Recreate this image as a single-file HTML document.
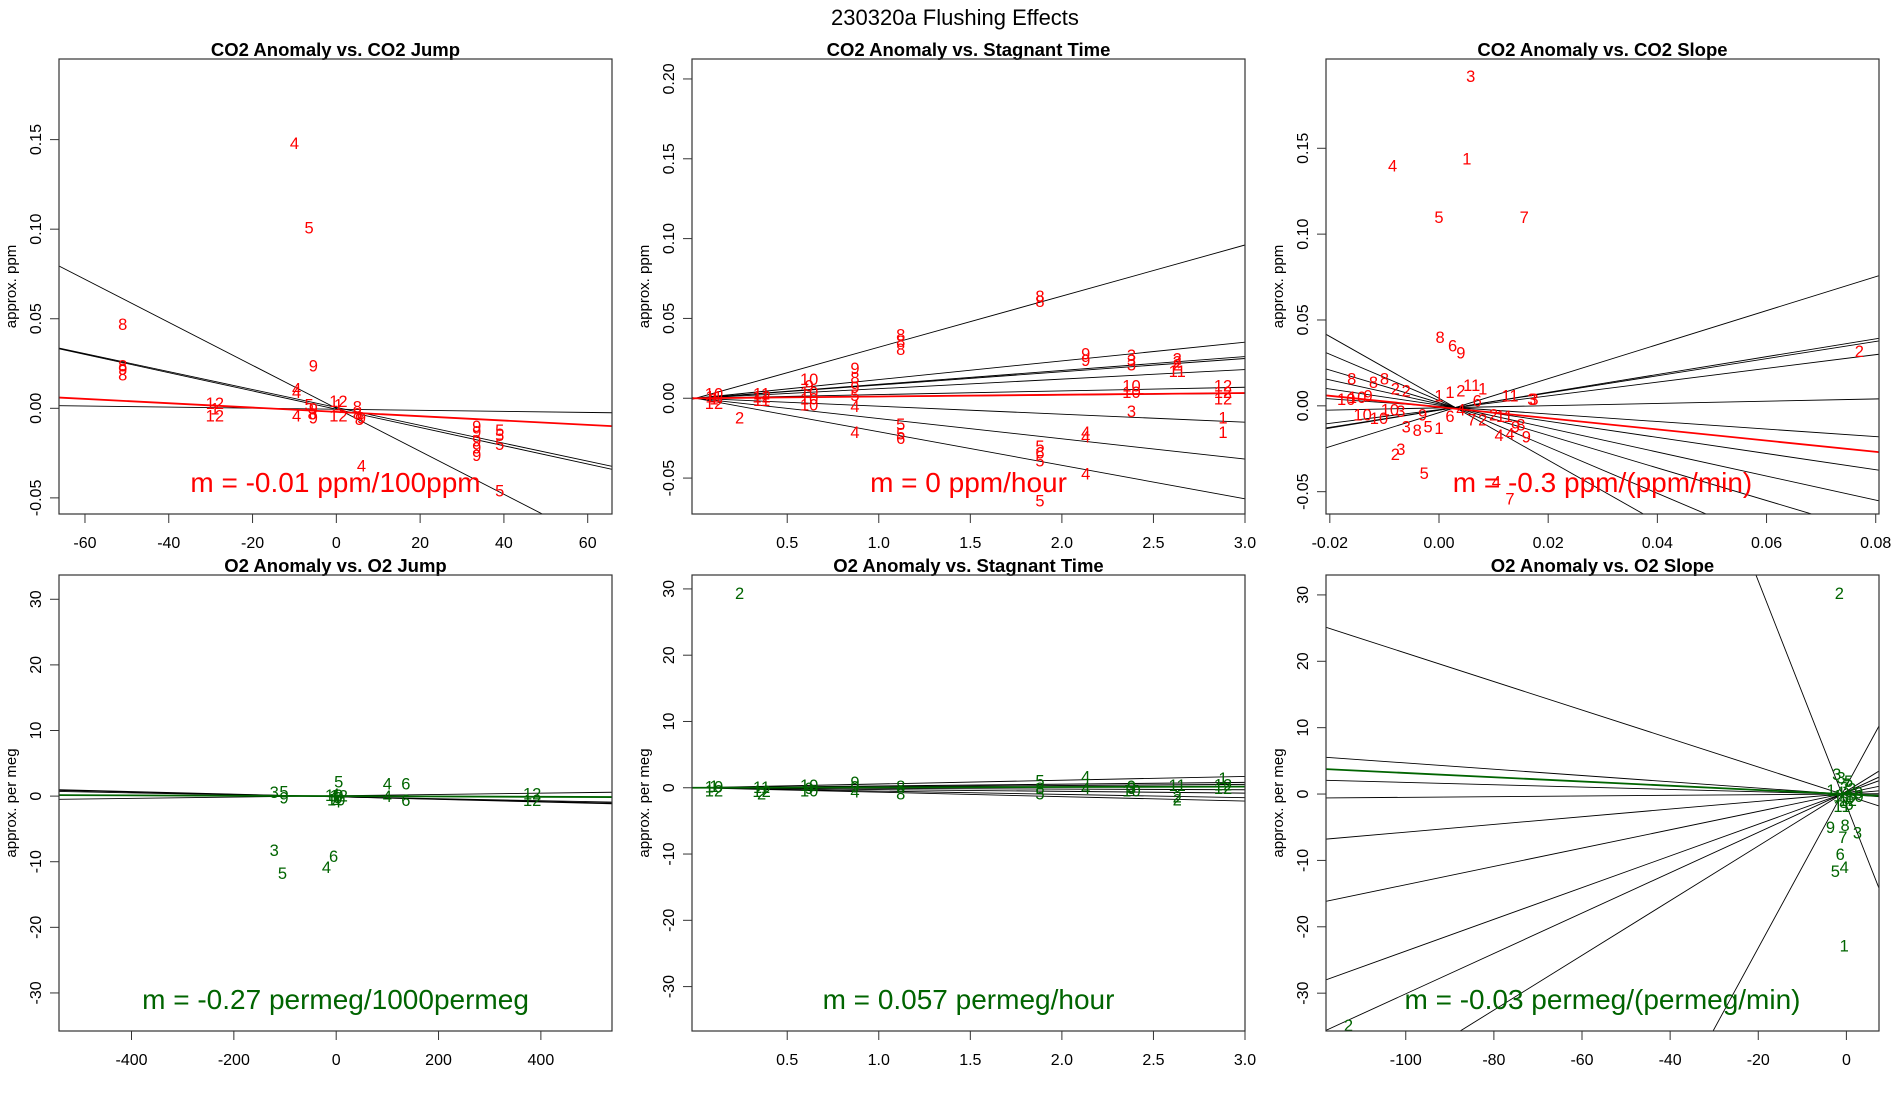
<!DOCTYPE html>
<html><head><meta charset="utf-8"><title>230320a Flushing Effects</title>
<style>
html,body{margin:0;padding:0;background:#fff;width:1900px;height:1100px;overflow:hidden;}
svg{display:block;font-family:"Liberation Sans",Arial,sans-serif;}
</style></head>
<body>
<svg id="chart" width="1900" height="1100" viewBox="0 0 1900 1100" xmlns="http://www.w3.org/2000/svg">
<rect x="0" y="0" width="1900" height="1100" fill="#fff"/>
<text x="955" y="25" font-size="22" text-anchor="middle">230320a   Flushing Effects</text>
</svg>
<script>
// ---------- Panel 1: CO2 Anomaly vs CO2 Jump ----------
const p1Labels = ["4","5","8","9","8","9","8","4","4","12","1","12","5","9","8","9","4","12","12","1","8","8","8","9","9","9","9","9","9","5","5","5","4","5"];
const p1X = [-10,-6.5,-51,-5.5,-51,-51,-51,-9.5,-9.5,-29,-29,-29,-6.5,-5.5,-5.8,-5.5,-9.5,0.5,0.5,0.5,5,5,5.5,6,33.5,33.5,33.5,33.5,33.5,39,39,39,6,39];
const p1Y = [0.148,0.101,0.047,0.024,0.024,0.022,0.019,0.011,0.009,0.003,0.0,-0.004,0.002,0.0,-0.003,-0.005,-0.004,0.004,-0.004,0.002,0.001,-0.003,-0.006,-0.005,-0.01,-0.013,-0.018,-0.022,-0.026,-0.012,-0.015,-0.02,-0.032,-0.046];
const p1LineA = [0,0.0005,-0.0005,-0.0005];
const p1LineB = [-0.0012,-0.0005,-0.00051,-0.00003];
const p1Fit = [-0.002,-0.000121];
const p1XTicks = [-60,-40,-20,0,20,40,60];
const p1YTicks = [-0.05,0.00,0.05,0.10,0.15];

// ---------- Panel 2: CO2 Anomaly vs Stagnant Time ----------
const p2Labels = ["10","1","12","11","2","11","12","11","10","9","10","10","10","9","8","9","5","4","4","8","8","8","5","5","6","8","8","5","6","5","5","9","9","4","4","4","3","3","3","10","10","3","2","2","2","11","12","12","12","1","1"];
const p2X = [0.1,0.1,0.1,0.1,0.24,0.36,0.36,0.36,0.62,0.62,0.62,0.62,0.62,0.87,0.87,0.87,0.87,0.87,0.87,1.12,1.12,1.12,1.12,1.12,1.12,1.88,1.88,1.88,1.88,1.88,1.88,2.13,2.13,2.13,2.13,2.13,2.38,2.38,2.38,2.38,2.38,2.38,2.63,2.63,2.63,2.63,2.88,2.88,2.88,2.88,2.88];
const p2Y = [0.003,0.0,-0.003,0.001,-0.012,0.003,0.001,-0.001,0.012,0.008,0.004,0.0,-0.004,0.019,0.013,0.007,0.002,-0.005,-0.021,0.04,0.036,0.031,-0.016,-0.022,-0.025,0.064,0.061,-0.03,-0.034,-0.039,-0.064,0.028,0.024,-0.021,-0.024,-0.047,0.027,0.024,0.021,0.008,0.004,-0.008,0.025,0.023,0.021,0.017,0.008,0.004,0.0,-0.012,-0.021];
const p2LineA = [0,0,0,0,0,0,0,0,0,0];
const p2LineB = [0.032,0.0117,0.0087,0.0083,0.006,0.0023,0.001,-0.005,-0.0127,-0.021];
const p2Fit = [0,0.0011];
const p2XTicks = [0.5,1.0,1.5,2.0,2.5,3.0];
const p2YTicks = [-0.05,0.00,0.05,0.10,0.15,0.20];

// ---------- Panel 3: CO2 Anomaly vs CO2 Slope ----------
const p3Labels = ["3","1","4","5","7","8","6","9","2","3","4","7","5","8","8","8","10","10","9","2","2","10","10","10","3","3","8","3","2","5","1","9","1","1","2","11","1","6","4","6","7","2","2","11","11","8","4","9","4","9","3"];
const p3X = [0.0058,0.0051,-0.0085,0.0,0.0156,0.0002,0.0025,0.004,0.077,0.0174,0.0105,0.013,-0.0027,-0.016,-0.012,-0.010,-0.017,-0.015,-0.013,-0.008,-0.006,-0.014,-0.011,-0.009,-0.007,-0.006,-0.004,-0.007,-0.008,-0.002,0.0,-0.003,0.0,0.002,0.004,0.006,0.008,0.007,0.004,0.002,0.006,0.008,0.010,0.012,0.013,0.015,0.013,0.016,0.011,0.014,0.017];
const p3Y = [0.192,0.144,0.140,0.110,0.110,0.040,0.035,0.031,0.032,0.004,-0.044,-0.054,-0.039,0.016,0.014,0.016,0.004,0.005,0.006,0.010,0.009,-0.005,-0.007,-0.002,-0.003,-0.012,-0.014,-0.025,-0.028,-0.012,-0.013,-0.005,0.006,0.008,0.009,0.012,0.010,0.003,-0.002,-0.006,-0.008,-0.008,-0.005,-0.006,0.006,-0.011,-0.016,-0.018,-0.017,-0.012,0.004];
const p3Slopes = [0.99,0.52,0.50,0.40,0.065,-0.22,-0.47,-0.70,-0.95,-1.35,-1.8];
const p3Pivot = [0.003,-0.001];
const p3Fit = [-0.0007,-0.326];
const p3XTicks = [-0.02,0.00,0.02,0.04,0.06,0.08];
const p3YTicks = [-0.05,0.00,0.05,0.10,0.15];

// ---------- Panel 4: O2 Anomaly vs O2 Jump ----------
const p4Labels = ["3","5","6","4","5","4","6","4","6","3","5","9","12","12","4","6","10","12","10","4"];
const p4X = [-121,-105,-5,-19,5,100,136,100,136,-121,-102,-102,383,383,-2,3,0,5,-4,1];
const p4Y = [-8.2,-11.7,-9.1,-10.8,2.2,1.9,1.9,0,-0.6,0.6,0.7,-0.2,0.4,-0.6,0.3,-0.2,-0.5,0.1,0.2,-0.8];
const p4LineA = [-0.1,-0.1,0.05,-0.1];
const p4LineB = [-0.002,-0.0015,0.001,-0.0018];
const p4Fit = [0.0,-0.00027];
const p4XTicks = [-400,-200,0,200,400];
const p4YTicks = [-30,-20,-10,0,10,20,30];

// ---------- Panel 5: O2 Anomaly vs Stagnant Time ----------
const p5Labels = ["2","10","12","1","11","12","2","10","9","10","9","9","4","8","8","5","5","8","4","4","9","10","3","11","2","2","12","12","1"];
const p5X = [0.24,0.1,0.1,0.1,0.36,0.36,0.36,0.62,0.62,0.62,0.87,0.87,0.87,1.12,1.12,1.88,1.88,1.88,2.13,2.13,2.38,2.38,2.38,2.63,2.63,2.63,2.88,2.88,2.88];
const p5Y = [29.4,0.2,-0.4,0.3,0.1,-0.5,-0.9,0.4,0.0,-0.4,0.9,0.2,-0.6,0.3,-0.9,1.1,-0.9,0.0,1.7,0.0,0.3,-0.4,0.0,0.4,-1.3,-1.8,0.5,0.0,1.5];
const p5LineA = [0,0,0,0,0,0,0,0];
const p5LineB = [0.57,0.27,0.17,0.07,-0.1,-0.27,-0.5,-0.67];
const p5Fit = [0,0.057];
const p5XTicks = [0.5,1.0,1.5,2.0,2.5,3.0];
const p5YTicks = [-30,-20,-10,0,10,20,30];

// ---------- Panel 6: O2 Anomaly vs O2 Slope ----------
const p6Labels = ["2","2","1","9","8","7","3","6","5","4","3","3","5","1","7","2","4","6","8","10","11","12","1","9","5","3"];
const p6X = [-1.6,-113,-0.5,-3.6,-0.3,-0.8,2.5,-1.4,-2.5,-0.5,-2.2,-1.2,0.5,-3.5,0.0,1.2,-1.5,0.8,-0.6,1.8,-1.0,0.3,-2.0,2.8,0.6,-0.4];
const p6Y = [30.3,-34.8,-22.8,-5.0,-4.7,-6.5,-5.8,-9.0,-11.6,-11.0,3.0,2.5,2.0,0.6,1.5,0.8,0.3,-0.5,-1.2,-0.3,-1.8,-0.9,-0.2,0.2,-1.5,1.0];
const p6Slopes = [-1.69,-0.2145,-0.0473,-0.0177,0.005,0.058,0.138,0.239,0.304,0.412,1.22];
const p6Pivot = [-1,0];
const p6Fit = [-0.03,-0.032];
const p6XTicks = [-100,-80,-60,-40,-20,0];
const p6YTicks = [-30,-20,-10,0,10,20,30];

const SVGNS = "http://www.w3.org/2000/svg";
const svg = document.getElementById('chart');
function mk(tag, attrs, parent){
  const e = document.createElementNS(SVGNS, tag);
  for (const k in attrs) e.setAttribute(k, attrs[k]);
  (parent || svg).appendChild(e);
  return e;
}

function drawPanel(cfg){
  const L = cfg.left, T = cfg.top, W = 553, H = cfg.h;
  const R = L + W, B = T + H;
  const sx = v => L + (v - cfg.xmin) / (cfg.xmax - cfg.xmin) * W;
  const sy = v => B - (v - cfg.ymin) / (cfg.ymax - cfg.ymin) * H;
  const g = mk('g', {});
  
  
  const cid = 'clip-' + cfg.name;
  const cp = mk('clipPath', {id: cid}, g);
  mk('rect', {x: L, y: T, width: W, height: H}, cp);

  const title = mk('text', {x: (L + R) / 2, y: T - 3, 'font-size': 18.5, 'font-weight': 'bold', 'text-anchor': 'middle'}, g);
  title.textContent = cfg.title;
  
  

  const yl = mk('text', {x: 0, y: 0, 'font-size': 15, 'text-anchor': 'middle', transform: 'translate(' + (L - 43) + ',' + ((T + B) / 2) + ') rotate(-90)'}, g);
  yl.textContent = cfg.ylabel;
  
  

  cfg.xticks.forEach(t => {
    const x = sx(t);
    const tk = mk('line', {x1: x, x2: x, y1: B, y2: B + 9, stroke: '#333', 'stroke-width': 1}, g);
    
    
    const tl = mk('text', {x: x, y: B + 34, 'font-size': 16, 'text-anchor': 'middle'}, g);
    tl.textContent = cfg.xfmt(t);
    
    
  });
  cfg.yticks.forEach(t => {
    const y = sy(t);
    const tk = mk('line', {x1: L - 9, x2: L, y1: y, y2: y, stroke: '#333', 'stroke-width': 1}, g);
    
    
    const tl = mk('text', {x: 0, y: 0, 'font-size': 16, 'text-anchor': 'middle', transform: 'translate(' + (L - 18) + ',' + y + ') rotate(-90)'}, g);
    tl.textContent = cfg.yfmt(t);
    
    
  });

  const lg = mk('g', {'clip-path': 'url(#' + cid + ')'}, g);
  cfg.lines.forEach(ab => {
    const ln = mk('line', {x1: sx(cfg.xmin), y1: sy(ab[0] + ab[1] * cfg.xmin), x2: sx(cfg.xmax), y2: sy(ab[0] + ab[1] * cfg.xmax), stroke: '#000', 'stroke-width': 0.9}, lg);
    
    
  });
  const fl = mk('line', {x1: sx(cfg.xmin), y1: sy(cfg.fit[0] + cfg.fit[1] * cfg.xmin), x2: sx(cfg.xmax), y2: sy(cfg.fit[0] + cfg.fit[1] * cfg.xmax), stroke: cfg.color, 'stroke-width': 1.8}, lg);
  
  

  for (let i = 0; i < cfg.px.length; i++) {
    const t = mk('text', {x: sx(cfg.px[i]), y: sy(cfg.py[i]) + 6, 'font-size': 16.5, fill: cfg.color, 'text-anchor': 'middle'}, lg);
    t.textContent = cfg.pl[i];
    
    
  }

  const mt = mk('text', {x: (L + R) / 2, y: cfg.mty, 'font-size': 28, fill: cfg.color, 'text-anchor': 'middle'}, g);
  mt.textContent = cfg.mtext;
  
  

  const fr = mk('rect', {x: L, y: T, width: W, height: H, fill: 'none', stroke: '#333', 'stroke-width': 1.2}, g);
  
  
}

const f2 = v => v.toFixed(2);
const f1 = v => v.toFixed(1);
const f0 = v => String(v);
const pivotLines = (pv, sl) => sl.map(s => [pv[1] - pv[0] * s, s]);
const abLines = (A, Bs) => A.map((a, i) => [a, Bs[i]]);

drawPanel({name:'panel-co2-jump', left:59, top:59, h:455, xmin:-66.2, xmax:65.8, ymin:-0.059, ymax:0.195,
  title:'CO2 Anomaly vs. CO2 Jump', ylabel:'approx. ppm', xticks:p1XTicks, yticks:p1YTicks, xfmt:f0, yfmt:f2,
  px:p1X, py:p1Y, pl:p1Labels, lines:abLines(p1LineA, p1LineB), fit:p1Fit, color:'#ff0000', mtext:'m = -0.01 ppm/100ppm', mty:492});
drawPanel({name:'panel-co2-stagnant', left:692, top:59, h:455, xmin:-0.02, xmax:3.0, ymin:-0.0725, ymax:0.2125,
  title:'CO2 Anomaly vs. Stagnant Time', ylabel:'approx. ppm', xticks:p2XTicks, yticks:p2YTicks, xfmt:f1, yfmt:f2,
  px:p2X, py:p2Y, pl:p2Labels, lines:abLines(p2LineA, p2LineB), fit:p2Fit, color:'#ff0000', mtext:'m = 0 ppm/hour', mty:492});
drawPanel({name:'panel-co2-slope', left:1326, top:59, h:455, xmin:-0.0207, xmax:0.0806, ymin:-0.063, ymax:0.202,
  title:'CO2 Anomaly vs. CO2 Slope', ylabel:'approx. ppm', xticks:p3XTicks, yticks:p3YTicks, xfmt:f2, yfmt:f2,
  px:p3X, py:p3Y, pl:p3Labels, lines:pivotLines(p3Pivot, p3Slopes), fit:p3Fit, color:'#ff0000', mtext:'m = -0.3 ppm/(ppm/min)', mty:492});
drawPanel({name:'panel-o2-jump', left:59, top:575, h:456, xmin:-541.7, xmax:539, ymin:-35.8, ymax:33.7,
  title:'O2 Anomaly vs. O2 Jump', ylabel:'approx. per meg', xticks:p4XTicks, yticks:p4YTicks, xfmt:f0, yfmt:f0,
  px:p4X, py:p4Y, pl:p4Labels, lines:abLines(p4LineA, p4LineB), fit:p4Fit, color:'#006400', mtext:'m = -0.27 permeg/1000permeg', mty:1009});
drawPanel({name:'panel-o2-stagnant', left:692, top:575, h:456, xmin:-0.02, xmax:3.0, ymin:-36.7, ymax:32.1,
  title:'O2 Anomaly vs. Stagnant Time', ylabel:'approx. per meg', xticks:p5XTicks, yticks:p5YTicks, xfmt:f1, yfmt:f0,
  px:p5X, py:p5Y, pl:p5Labels, lines:abLines(p5LineA, p5LineB), fit:p5Fit, color:'#006400', mtext:'m = 0.057 permeg/hour', mty:1009});
drawPanel({name:'panel-o2-slope', left:1326, top:575, h:456, xmin:-118.1, xmax:7.4, ymin:-35.7, ymax:33,
  title:'O2 Anomaly vs. O2 Slope', ylabel:'approx. per meg', xticks:p6XTicks, yticks:p6YTicks, xfmt:f0, yfmt:f0,
  px:p6X, py:p6Y, pl:p6Labels, lines:pivotLines(p6Pivot, p6Slopes), fit:p6Fit, color:'#006400', mtext:'m = -0.03 permeg/(permeg/min)', mty:1009});
</script>
</body></html>
